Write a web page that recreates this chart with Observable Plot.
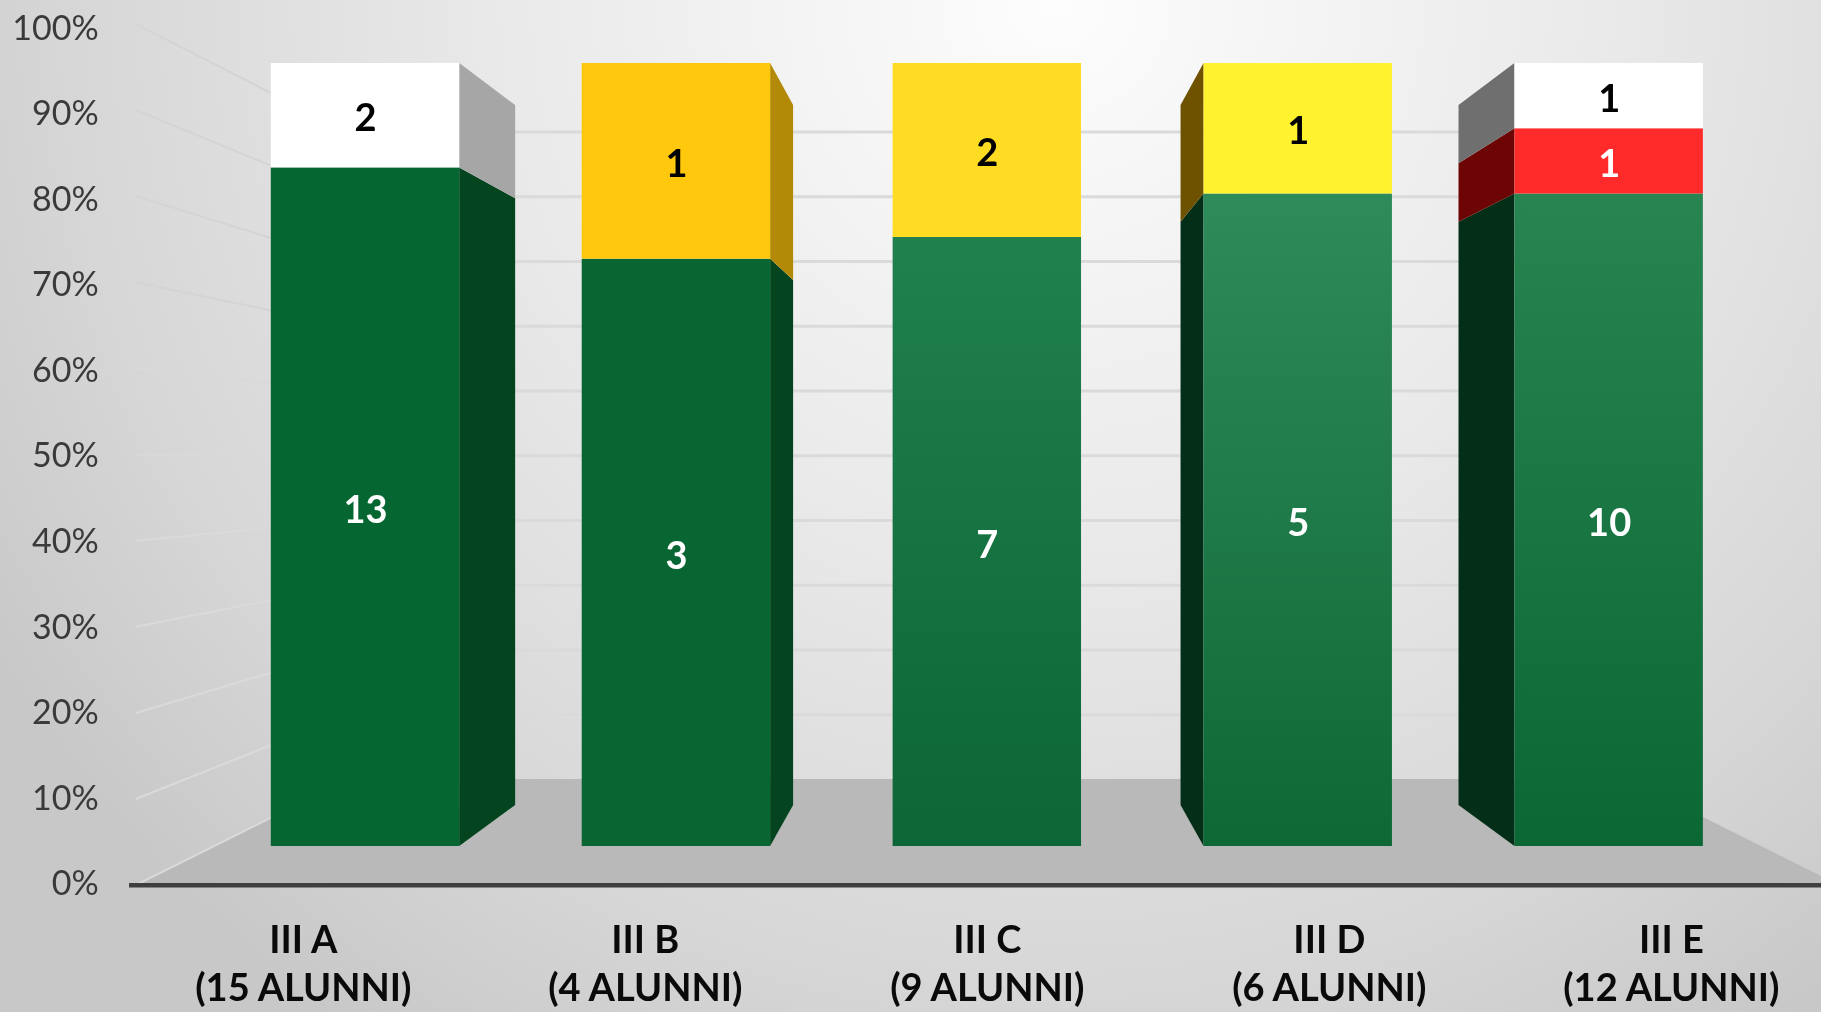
<!DOCTYPE html>
<html>
<head>
<meta charset="utf-8">
<script src="https://cdn.jsdelivr.net/npm/d3@7"></script>
<script src="https://cdn.jsdelivr.net/npm/@observablehq/plot@0.6"></script>
<style>
html,body{margin:0;padding:0;overflow:hidden;background:#ddd}
svg{display:block}
</style>
</head>
<body>
<div id="chart"></div>
<script>
// ---- data ----
const classes = ["III A", "III B", "III C", "III D", "III E"];
const totals  = [15, 4, 9, 6, 12];
const promoted = [13, 3, 7, 5, 10];
const red      = [0, 0, 0, 0, 1];
const yellow   = [0, 1, 2, 1, 0];
const white    = [2, 0, 0, 0, 1];
const pctTicks = [0, 10, 20, 30, 40, 50, 60, 70, 80, 90, 100];

// ---- colours ----
const frontGreen = [["#066631","#066631"],["#086632","#086632"],["#20804e","#0c6635"],["#2e8c5a","#0e6836"],["#288552","#0b6734"]];
const frontYellow = ["#ffc80c","#ffc80c","#ffdc24","#fff22f","#fff22f"];
const sideShade = {
  green: ["#04451f","#04451f",null,"#042e17","#042e17"],
  yellow: [null,"#b38a08",null,"#6e5200",null],
  red: [null,null,null,null,"#6d0505"],
  white: ["#a6a6a6",null,null,null,"#6f6f6f"]
};

// ---- perspective of the 3-D box ----
const halfBar = 0.303, vanishX = 2, vanishY = 49.4;
const sFront = 1.1, sBack = 0.827, sBar = 0.894, sLabel = 1.093, wallHalf = 2.49;
const px = (X, s) => vanishX + (X - vanishX) * s;
const py = (v, s) => vanishY + (v - vanishY) * s;

const segs = [];
classes.forEach((c, i) => {
  let acc = 0;
  [["green", promoted[i]], ["red", red[i]], ["yellow", yellow[i]], ["white", white[i]]].forEach(([k, n]) => {
    if (!n) return;
    const y1 = acc / totals[i] * 100;
    acc += n;
    const y2 = acc / totals[i] * 100;
    const fill = k === "green" ? `url(#g${i})` : k === "yellow" ? `url(#y${i})` : k === "red" ? "#ff2a2a" : "#ffffff";
    const ink = (k === "green" || k === "red") ? "#ffffff" : "#000000";
    segs.push({i, k, n, y1, y2, fill, ink, side: sideShade[k][i]});
  });
});

const sideRows = [];
segs.filter(d => d.side).forEach(d => {
  const edge = d.i < 2 ? d.i + halfBar : d.i - halfBar;
  [1, sBar].forEach(s => sideRows.push({
    key: d.i + d.k, x: px(edge, s), y1: py(d.y1, s), y2: py(d.y2, s), fill: d.side
  }));
});

const floorRows = [sFront, sBack].map(s => ({
  y: py(0, s), x1: px(vanishX - wallHalf, s), x2: px(vanishX + wallHalf, s)
}));

const wallLeft = pctTicks.map(v => ({
  v, x1: px(vanishX - wallHalf, sFront), y1: py(v, sFront), x2: px(vanishX - wallHalf, sBack), y2: py(v, sBack)
}));
const wallBack = pctTicks.filter(v => v > 0).map(v => ({
  v, x1: px(vanishX - wallHalf, sBack), x2: px(vanishX + wallHalf, sBack), y: py(v, sBack)
}));
const wallInk = v => v >= 70 ? "#d4d4d4" : v >= 50 ? "#d9d9d9" : "#dadada";

const plot = Plot.plot({
  width: 1821, height: 1012,
  marginTop: 0, marginRight: 0, marginBottom: 0, marginLeft: 0,
  x: {type: "linear", domain: [-1.174, 4.683], range: [0, 1821], axis: null},
  y: {type: "linear", domain: [0, 100], range: [846, 63], axis: null},
  color: {type: "identity"},
  style: {
    background: "radial-gradient(circle 1250px at 58% 0%, #fdfdfd 0%, #e9e9e9 45%, #d6d6d6 80%, #c8c8c8 100%)",
    fontFamily: "Lato, sans-serif"
  },
  marks: [
    Plot.areaX(floorRows, {y: "y", x1: "x1", x2: "x2", fill: "#b9b9b9"}),
    Plot.link(wallLeft, {x1: "x1", y1: "y1", x2: "x2", y2: "y2", stroke: d => wallInk(d.v), strokeWidth: 2}),
    Plot.ruleY(wallBack, {y: "y", x1: "x1", x2: "x2", stroke: "#dadada", strokeWidth: 3}),
    Plot.ruleY([py(0, sFront)], {x1: px(vanishX - wallHalf, sFront) - 0.02, x2: 4.683, stroke: "#3f3f3f", strokeWidth: 4.5}),
    Plot.areaY(sideRows, {x: "x", y1: "y1", y2: "y2", z: "key", fill: "fill", curve: "linear"}),
    Plot.rect(segs, {x1: d => d.i - halfBar, x2: d => d.i + halfBar, y1: "y1", y2: "y2", fill: "fill", inset: 0}),
    Plot.text(segs, {x: "i", y: d => (d.y1 + d.y2) / 2, dy: 3.5, text: d => String(d.n), fill: "ink", fontSize: 38, fontWeight: 700}),
    Plot.text(pctTicks, {
      x: px(vanishX - wallHalf, sFront), y: v => py(v, sLabel), text: v => v + "%",
      textAnchor: "end", dx: -37, dy: 2, fill: "#3a3a3a", fontSize: 34
    }),
    Plot.text(classes, {
      x: (c, i) => px(i, sFront), y: 0, dy: 115.5,
      text: (c, i) => `${c}\n(${totals[i]} ALUNNI)`,
      lineHeight: 1.26, fill: "#0a0a0a", fontSize: 38, fontWeight: 700
    })
  ]
});

const defs = d3.select(plot).insert("defs", ":first-child");
const addGrad = (id, a, b) => {
  const g = defs.append("linearGradient").attr("id", id).attr("x1", 0).attr("y1", 0).attr("x2", 0).attr("y2", 1);
  g.append("stop").attr("offset", "0%").attr("stop-color", a);
  g.append("stop").attr("offset", "100%").attr("stop-color", b);
};
classes.forEach((c, i) => {
  addGrad("g" + i, frontGreen[i][0], frontGreen[i][1]);
  addGrad("y" + i, frontYellow[i], frontYellow[i]);
});
d3.select(plot).selectAll("g[aria-label]").style("filter", "blur(0.6px)");
document.getElementById("chart").appendChild(plot);
</script>
</body>
</html>
